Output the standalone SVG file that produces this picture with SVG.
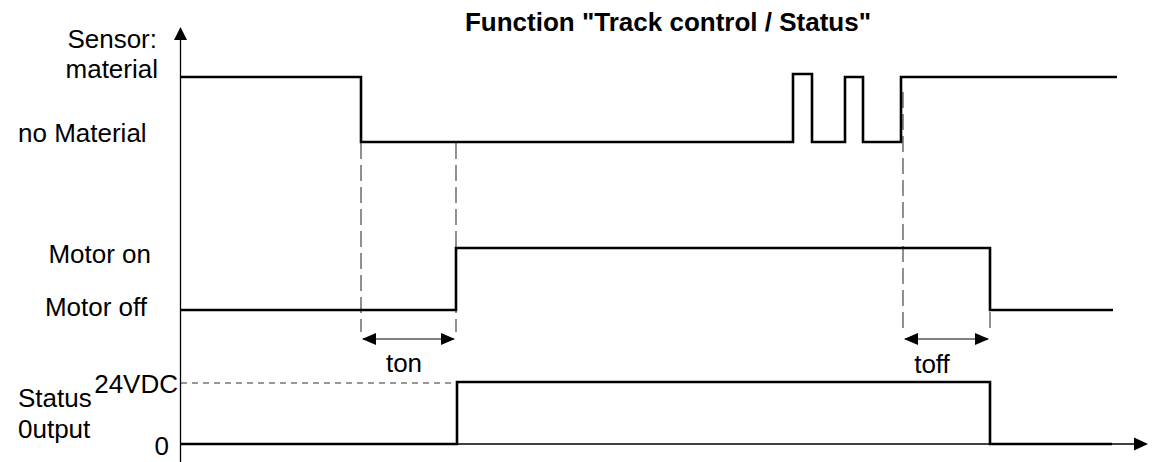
<svg xmlns="http://www.w3.org/2000/svg" width="1158" height="462" viewBox="0 0 1158 462">
<style>
text{font-family:"Liberation Sans",Arial,sans-serif;font-size:26px;fill:#000}
.title{font-weight:bold}
.axis{stroke:#000;stroke-width:1.3;fill:none}
.sig{stroke:#000;stroke-width:2.6;fill:none;stroke-linejoin:miter}
.dash{stroke:#555;stroke-width:1.3;stroke-dasharray:16 6;fill:none}
.fine{stroke:#333;stroke-width:1.2;stroke-dasharray:6 5;fill:none}
.dim{stroke:#555;stroke-width:1.5;fill:none}
</style>
<defs>
<marker id="ah" markerWidth="14" markerHeight="12" refX="13" refY="6" orient="auto-start-reverse" markerUnits="userSpaceOnUse">
<path d="M0,0 L14,6 L0,12 Z" fill="#000"/>
</marker>
</defs>
<g id="title"><text class="title" x="668" y="31" text-anchor="middle">Function "Track control / Status"</text></g>
<g id="axes">
<line class="axis" x1="180.5" y1="462" x2="180.5" y2="30"/>
<path d="M174,40 L180.5,27 L187,40 Z" fill="#000"/>
<line class="axis" x1="180" y1="444" x2="1136" y2="444"/>
<path d="M1134,437.5 L1148,444 L1134,450.5 Z" fill="#000"/>
</g>
<g id="labels">
<text x="157" y="48" text-anchor="end">Sensor:</text>
<text x="158" y="78" text-anchor="end">material</text>
<text x="18" y="142">no Material</text>
<text x="151" y="263" text-anchor="end">Motor on</text>
<text x="147" y="316" text-anchor="end">Motor off</text>
<text x="18" y="407">Status</text>
<text x="18" y="438">0utput</text>
<text x="178" y="393" text-anchor="end">24VDC</text>
<text x="169" y="455" text-anchor="end">0</text>
<text x="404" y="372" text-anchor="middle">ton</text>
<text x="932" y="373" text-anchor="middle">toff</text>
</g>
<g id="connectors">
<line class="dash" x1="361" y1="143" x2="361" y2="332"/>
<line class="dash" x1="456" y1="143" x2="456" y2="332"/>
<line class="dash" x1="903" y1="92" x2="903" y2="332"/>
<line class="dash" x1="990" y1="312" x2="990" y2="332"/>
<line class="fine" x1="181" y1="383" x2="456" y2="383"/>
<line class="dim" x1="363" y1="339" x2="454" y2="339" marker-start="url(#ah)" marker-end="url(#ah)"/>
<line class="dim" x1="905" y1="339" x2="988" y2="339" marker-start="url(#ah)" marker-end="url(#ah)"/>
</g>
<g id="sensor-signal">
<path class="sig" d="M181,77 H361 V142 H793 V74 H812 V142 H845 V77 H863 V142 H901 V77 H1117"/>
</g>
<g id="motor-signal">
<path class="sig" d="M181,310 H456 V248 H990 V310 H1113"/>
</g>
<g id="status-signal">
<path class="sig" d="M181,444 H457 V382 H990 V444 H1112"/>
</g>
</svg>
